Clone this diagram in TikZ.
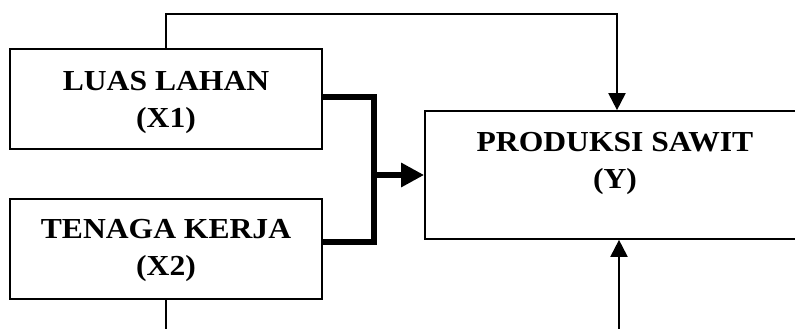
\documentclass[tikz,border=0pt]{standalone}
\usepackage{fontspec}
\setmainfont{Liberation Serif}[FakeStretch=1.09]
\usetikzlibrary{arrows.meta}
\tikzset{
  boxnode/.style={draw, line width=1.7pt, minimum width=312pt, minimum height=100pt, inner sep=0pt},
  lbl/.style={align=center, font=\fontsize{29}{37}\selectfont\bfseries, inner sep=0pt},
  thinline/.style={line width=2pt},
  thinarrow/.style={thinline, -{Triangle[length=17pt,width=17pt]}},
  thickline/.style={line width=6.5pt, line join=miter},
}
\begin{document}
\begin{tikzpicture}[x=1pt,y=-1pt]
\useasboundingbox (0,0) rectangle (795,329);
\clip (0,0) rectangle (795,329);
\node[boxnode] (b1) at (166,99) {};
\node[boxnode] (b2) at (166,249) {};
\node[boxnode, minimum width=380pt, minimum height=128pt] (y) at (615,175) {};
\node[lbl] (t1) at (166,102) {LUAS LAHAN\\(X1)};
\node[lbl] (t2) at (166,250) {TENAGA KERJA\\(X2)};
\node[lbl] (ty) at (615,163) {PRODUKSI SAWIT\\(Y)};
% coordinates
\coordinate (j1) at (374,97);
\coordinate (j2) at (374,242);
\coordinate (j) at (374,175);
\coordinate (top) at (166,14);
\coordinate (bot1) at (166,335);
\coordinate (bot2) at (619,335);
% thick connector
\draw[thickline] ([yshift=2pt]b1.east) -- (j1) -- (j2) -- ([yshift=7pt]b2.east);
\draw[thickline, -{Triangle[length=23pt,width=23pt]}] (j) -- (y.west);
% top connector
\draw[thinarrow] (b1.north) -- (top) -| ([xshift=2pt]y.north);
% bottom
\draw[thinline] (b2.south) -- (bot1);
\draw[thinarrow] (bot2) -- ([xshift=4pt]y.south);
\end{tikzpicture}
\end{document}
